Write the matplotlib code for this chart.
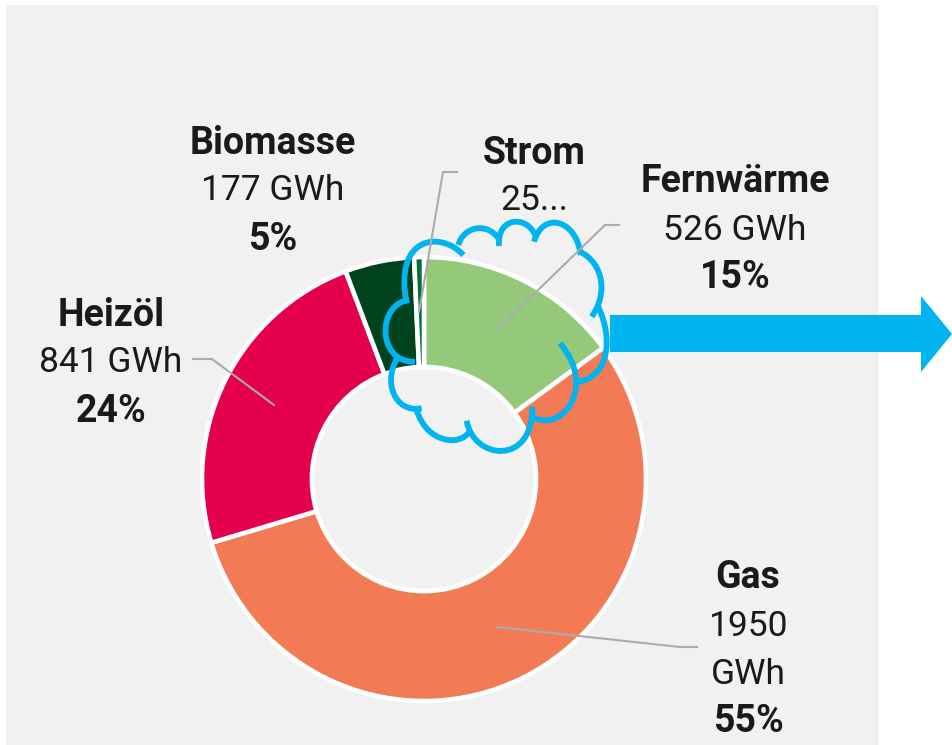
import matplotlib
matplotlib.use("Agg")
import matplotlib.pyplot as plt
from matplotlib.patches import PathPatch, Polygon, Rectangle
from matplotlib.path import Path

# === DATA ===
names = ["Fernwärme", "Gas", "Heizöl", "Biomasse", "Strom"]
gwh = [526, 1950, 841, 177, 25]
gwh_labels = ["526 GWh", "1950\nGWh", "841 GWh", "177 GWh", "25..."]
pct_labels = ["15%", "55%", "24%", "5%", ""]
colors = ["#94C979", "#F27A55", "#E4004F", "#00441F", "#0A6B3A"]

W, H = 952, 745
fig = plt.figure(figsize=(W / 100, H / 100), dpi=100, facecolor="white")
plt.rcParams["font.family"] = ["Roboto", "DejaVu Sans"]

# === BACKGROUND: panel and arrow, everything in image pixels ===
bg = fig.add_axes([0, 0, 1, 1], zorder=0)
bg.set_xlim(0, W)
bg.set_ylim(H, 0)
bg.axis("off")
bg.add_patch(Rectangle((6, 5), 873, 740, fc="#F1F1F1", ec="none"))
blue = "#00B4F0"
bg.add_patch(Polygon([(610, 315), (921, 315), (921, 296), (952, 334),
                      (921, 372), (921, 352), (610, 352)], fc=blue, ec="none"))

# === DONUT ===
cx, cy, r = 424, 479, 222
pad = 1.1
pie_ax = fig.add_axes([(cx - r * pad) / W, (H - cy - r * pad) / H,
                       2 * r * pad / W, 2 * r * pad / H], zorder=1)
pie_ax.pie(gwh, colors=colors, startangle=90, counterclock=False, radius=1,
           wedgeprops={"width": 0.495, "edgecolor": "white", "linewidth": 3.3})
pie_ax.set_xlim(-pad, pad)
pie_ax.set_ylim(-pad, pad)
pie_ax.patch.set_alpha(0)

# === TOP LAYER: leader lines, cloud, labels ===
top = fig.add_axes([0, 0, 1, 1], zorder=2)
top.set_xlim(0, W)
top.set_ylim(H, 0)
top.axis("off")
top.patch.set_alpha(0)

leaders = [
    [(457, 172), (443, 172), (419, 312)],
    [(619, 225), (605, 225), (498, 329)],
    [(193, 359), (212, 359), (274, 405)],
    [(697, 647), (680, 647), (497, 627)],
]
for pts in leaders:
    top.plot([p[0] for p in pts], [p[1] for p in pts], color="#ABABAB", lw=1.5)

bumps = [
    [(280, 315), (210, 240), (70, 260), (110, 460)],
    [(118, 450), (20, 460), (20, 640), (135, 635)],
    [(82, 625), (40, 690), (70, 790), (155, 775)],
    [(140, 780), (170, 880), (270, 890), (298, 845)],
    [(290, 812), (310, 930), (490, 950), (487, 770)],
    [(483, 795), (560, 860), (690, 720), (570, 580)],
    [(625, 695), (720, 680), (730, 560), (682, 465)],
    [(665, 500), (715, 430), (700, 340), (630, 305)],
    [(632, 315), (620, 210), (520, 180), (492, 275)],
    [(495, 255), (470, 195), (380, 200), (387, 288)],
    [(385, 265), (350, 215), (280, 230), (265, 285)],
]
for b in bumps:
    verts = [(370 + x / 3, 150 + y / 3) for x, y in b]
    codes = [Path.MOVETO, Path.CURVE4, Path.CURVE4, Path.CURVE4]
    top.add_patch(PathPatch(Path(verts, codes), fc="none", ec=blue, lw=4.2,
                            capstyle="butt"))

# label anchor of the first line of each block
label_xy = [(735, 182), (748, 578), (111, 315), (273, 143), (534, 153)]
bold_fs = 27
reg_fs = 25.5
line_h = 48
ink = "#1A1A1A"
for name, val, pct, (x, y) in zip(names, gwh_labels, pct_labels, label_xy):
    top.text(x, y, name, ha="center", va="center", fontsize=bold_fs, weight="bold", color=ink)
    row = y
    for part in val.split("\n"):
        row += line_h
        top.text(x, row, part, ha="center", va="center", fontsize=reg_fs, weight="normal", color=ink)
    if pct:
        row += line_h
        top.text(x, row, pct, ha="center", va="center", fontsize=bold_fs, weight="bold", color=ink)

fig.savefig("out.png", dpi=100)
